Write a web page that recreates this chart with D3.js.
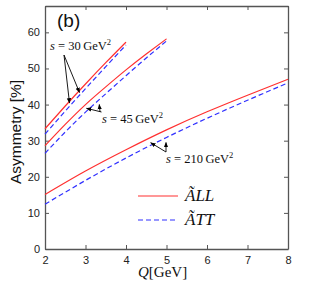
<!DOCTYPE html>
<html>
<head>
<meta charset="utf-8">
<script src="https://cdn.jsdelivr.net/npm/d3@7"></script>
<style>
  body { margin: 0; background: #fff; }
  .tick text { font-family: Arial, "Liberation Sans", sans-serif; font-size: 11px; fill: #222; }
  .serif { font-family: "Liberation Serif", "Times New Roman", serif; }
</style>
</head>
<body>
<div id="chart"></div>
<script>
var q30 = [2, 2.5, 3, 3.5, 4];
var q45 = [2, 2.5, 3, 3.5, 4, 4.5, 5];
var q210 = [2, 3, 4, 5, 6, 7, 8];

var all30 = [33.3, 39.6, 45.7, 51.6, 57.3];
var att30 = [31.8, 38.2, 44.4, 50.5, 56.5];
var all45 = [28.6, 34.5, 40.0, 44.9, 49.6, 54.0, 58.2];
var att45 = [26.5, 32.4, 37.9, 43.0, 48.0, 52.9, 57.6];
var all210 = [15.1, 21.6, 27.5, 33.0, 38.0, 42.6, 47.0];
var att210 = [12.4, 19.0, 25.2, 30.9, 36.2, 41.2, 46.0];

var xTicks = [2, 3, 4, 5, 6, 7, 8];
var yTicks = [0, 10, 20, 30, 40, 50, 60];

var W = 327, H = 284;
var margin = {top: 6, right: 39, bottom: 35, left: 45};

var svg = d3.select('#chart').append('svg')
  .attr('width', W)
  .attr('height', H);

var x = d3.scaleLinear().domain([2, 8]).range([margin.left, W - margin.right]);
var y = d3.scaleLinear().domain([0, 67.3]).range([H - margin.bottom, margin.top]);

var axisColor = '#555';
var fmt = d3.format('d');

// frame axes, ticks pointing inwards
var gB = svg.append('g')
  .attr('transform', 'translate(0,' + y(0) + ')')
  .call(d3.axisBottom(x).tickValues(xTicks).tickFormat(fmt).tickSizeInner(-4).tickSizeOuter(0).tickPadding(6));
var gT = svg.append('g')
  .attr('transform', 'translate(0,' + y.range()[1] + ')')
  .call(d3.axisTop(x).tickValues(xTicks).tickSizeInner(-4).tickSizeOuter(0).tickFormat(''));
var gL = svg.append('g')
  .attr('transform', 'translate(' + x(2) + ',0)')
  .call(d3.axisLeft(y).tickValues(yTicks).tickFormat(fmt).tickSizeInner(-4).tickSizeOuter(0).tickPadding(5));
var gR = svg.append('g')
  .attr('transform', 'translate(' + x(8) + ',0)')
  .call(d3.axisRight(y).tickValues(yTicks).tickSizeInner(-4).tickSizeOuter(0).tickFormat(''));

[gB, gT, gL, gR].forEach(function (g) {
  g.select('.domain').attr('stroke', axisColor).attr('stroke-width', 1.3);
  g.selectAll('.tick line').attr('stroke', axisColor);
});
gB.selectAll('.tick text').attr('dy', '0.85em');

// curves
var line = d3.line()
  .x(function (d) { return x(d[0]); })
  .y(function (d) { return y(d[1]); })
  .curve(d3.curveNatural);

function drawCurve (qs, vals, color, dashed) {
  svg.append('path')
    .datum(qs.map(function (q, i) { return [q, vals[i]]; }))
    .attr('d', line)
    .attr('fill', 'none')
    .attr('stroke', color)
    .attr('stroke-width', 1.2)
    .attr('stroke-dasharray', dashed ? '5,3' : null);
}

var red = '#ff3030', blue = '#3030ff';
drawCurve(q30, all30, red, false);
drawCurve(q30, att30, blue, true);
drawCurve(q45, all45, red, false);
drawCurve(q45, att45, blue, true);
drawCurve(q210, all210, red, false);
drawCurve(q210, att210, blue, true);

// arrow annotations
svg.append('defs').append('marker')
  .attr('id', 'head')
  .attr('viewBox', '0 0 10 10')
  .attr('refX', 9).attr('refY', 5)
  .attr('markerWidth', 6).attr('markerHeight', 6)
  .attr('orient', 'auto')
  .append('path').attr('d', 'M0,1 L10,5 L0,9 Z').attr('fill', '#000');

function arrow (x1, y1, x2, y2) {
  svg.append('line')
    .attr('x1', x1).attr('y1', y1).attr('x2', x2).attr('y2', y2)
    .attr('stroke', '#000').attr('stroke-width', 0.9)
    .attr('marker-end', 'url(#head)');
}

function sLabel (px, py, val) {
  var t = svg.append('text').attr('class', 'serif')
    .attr('x', px).attr('y', py)
    .attr('font-size', 12.5).attr('fill', '#111');
  t.append('tspan').attr('font-style', 'italic').text('s');
  t.append('tspan').text(' = ' + val + '\u2009GeV');
  t.append('tspan').attr('font-size', 8.5).attr('dy', -5).text('2');
}

sLabel(50, 50, 30);
arrow(64, 55, 69.5, 103);
arrow(64, 55, 79.5, 92.5);

sLabel(102, 123, 45);
arrow(101.5, 112, 86.5, 108.3);
arrow(100, 112, 99.3, 104.5);

sLabel(166, 163, 210);
arrow(166, 152, 150.7, 142.7);
arrow(166, 152, 166, 142.5);

// legend
var legend = [
  {label: 'LL', color: red, dashed: false, y: 196},
  {label: 'TT', color: blue, dashed: true, y: 220}
];
legend.forEach(function (d) {
  svg.append('line')
    .attr('x1', 138).attr('x2', 178).attr('y1', d.y).attr('y2', d.y)
    .attr('stroke', d.color).attr('stroke-width', 1.2)
    .attr('stroke-dasharray', d.dashed ? '5,3' : null);
  svg.append('text').attr('class', 'serif')
    .attr('x', 185).attr('y', d.y + 5)
    .attr('font-size', 17).attr('font-style', 'italic').attr('fill', '#111')
    .text('\u00c3' + d.label);
});

// panel tag and axis titles
svg.append('text')
  .attr('x', 57).attr('y', 27)
  .attr('font-family', 'Arial, "Liberation Sans", sans-serif')
  .attr('font-size', 19).attr('fill', '#111')
  .text('(b)');

svg.append('text')
  .attr('transform', 'translate(21,' + 132 + ') rotate(-90)')
  .attr('text-anchor', 'middle')
  .attr('font-family', 'Arial, "Liberation Sans", sans-serif')
  .attr('font-size', 15.5).attr('fill', '#111')
  .text('Asymmetry [%]');

var xt = svg.append('text').attr('class', 'serif')
  .attr('x', 138).attr('y', 277)
  .attr('font-size', 15).attr('fill', '#111');
xt.append('tspan').attr('font-style', 'italic').text('Q');
xt.append('tspan').text('[GeV]');
</script>
</body>
</html>
